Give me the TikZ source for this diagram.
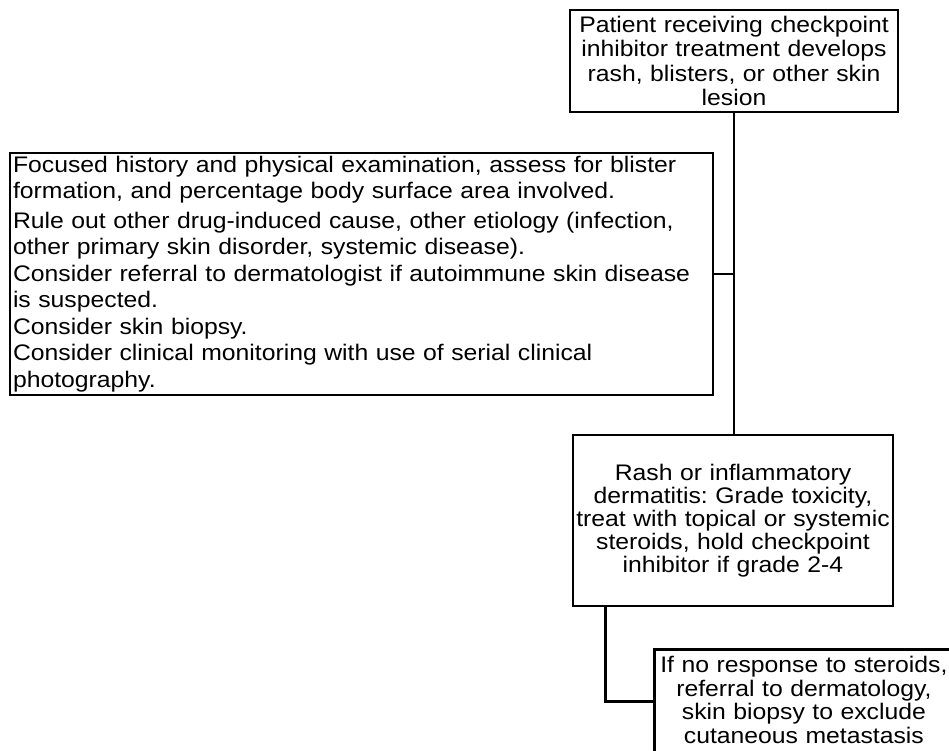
\documentclass[tikz,border=0pt]{standalone}
\usepackage{fontspec}
\setmainfont{Liberation Sans}[FakeStretch=1.1]
\usetikzlibrary{positioning}
\frenchspacing

\begin{document}
\begin{tikzpicture}[x=1pt, y=-1pt,
  flowbox/.style={draw, line width=2.8pt, align=center, inner sep=3pt, font=\fontsize{22.5}{23}\selectfont},
  link/.style={line width=2.8pt}
]
  \clip (0,0) rectangle (949,750);

  \node[flowbox, text width=322pt, minimum height=102pt, font=\fontsize{22.5}{24.5}\selectfont] (start) at (734, 61) {
    Patient receiving checkpoint\\
    inhibitor treatment develops\\
    rash, blisters, or other skin\\
    lesion
  };
  \node[flowbox, align=left, text width=697pt, minimum height=240pt, font=\fontsize{22.5}{26.5}\selectfont] (workup) at (361.5, 274) {
    Focused history and physical examination, assess for blister\\
    formation, and percentage body surface area involved.\\[3pt]
    Rule out other drug-induced cause, other etiology (infection,\\
    other primary skin disorder, systemic disease).\\
    Consider referral to dermatologist if autoimmune skin disease\\
    is suspected.\\
    Consider skin biopsy.\\
    Consider clinical monitoring with use of serial clinical\\
    photography.
  };
  \node[flowbox, text width=314pt, minimum height=171pt] (rash) at (733, 520.5) {
    Rash or inflammatory\\
    dermatitis: Grade toxicity,\\
    treat with topical or systemic\\
    steroids, hold checkpoint\\
    inhibitor if grade 2-4
  };
  \node[flowbox, anchor=north west, text width=291pt, inner xsep=4pt, inner ysep=7pt, text depth=74pt, font=\fontsize{22.5}{23.5}\selectfont] (detail) at (653, 648) {
    If no response to steroids,\\
    referral to dermatology,\\
    skin biopsy to exclude\\
    cutaneous metastasis
  };

  \draw[link] (start.south) -- (start.south |- rash.north);
  \draw[link] (workup.east) -- (workup.east -| start.south);
  \draw[link] ([xshift=34pt]rash.south west) |- (detail.west);
\end{tikzpicture}
\end{document}
